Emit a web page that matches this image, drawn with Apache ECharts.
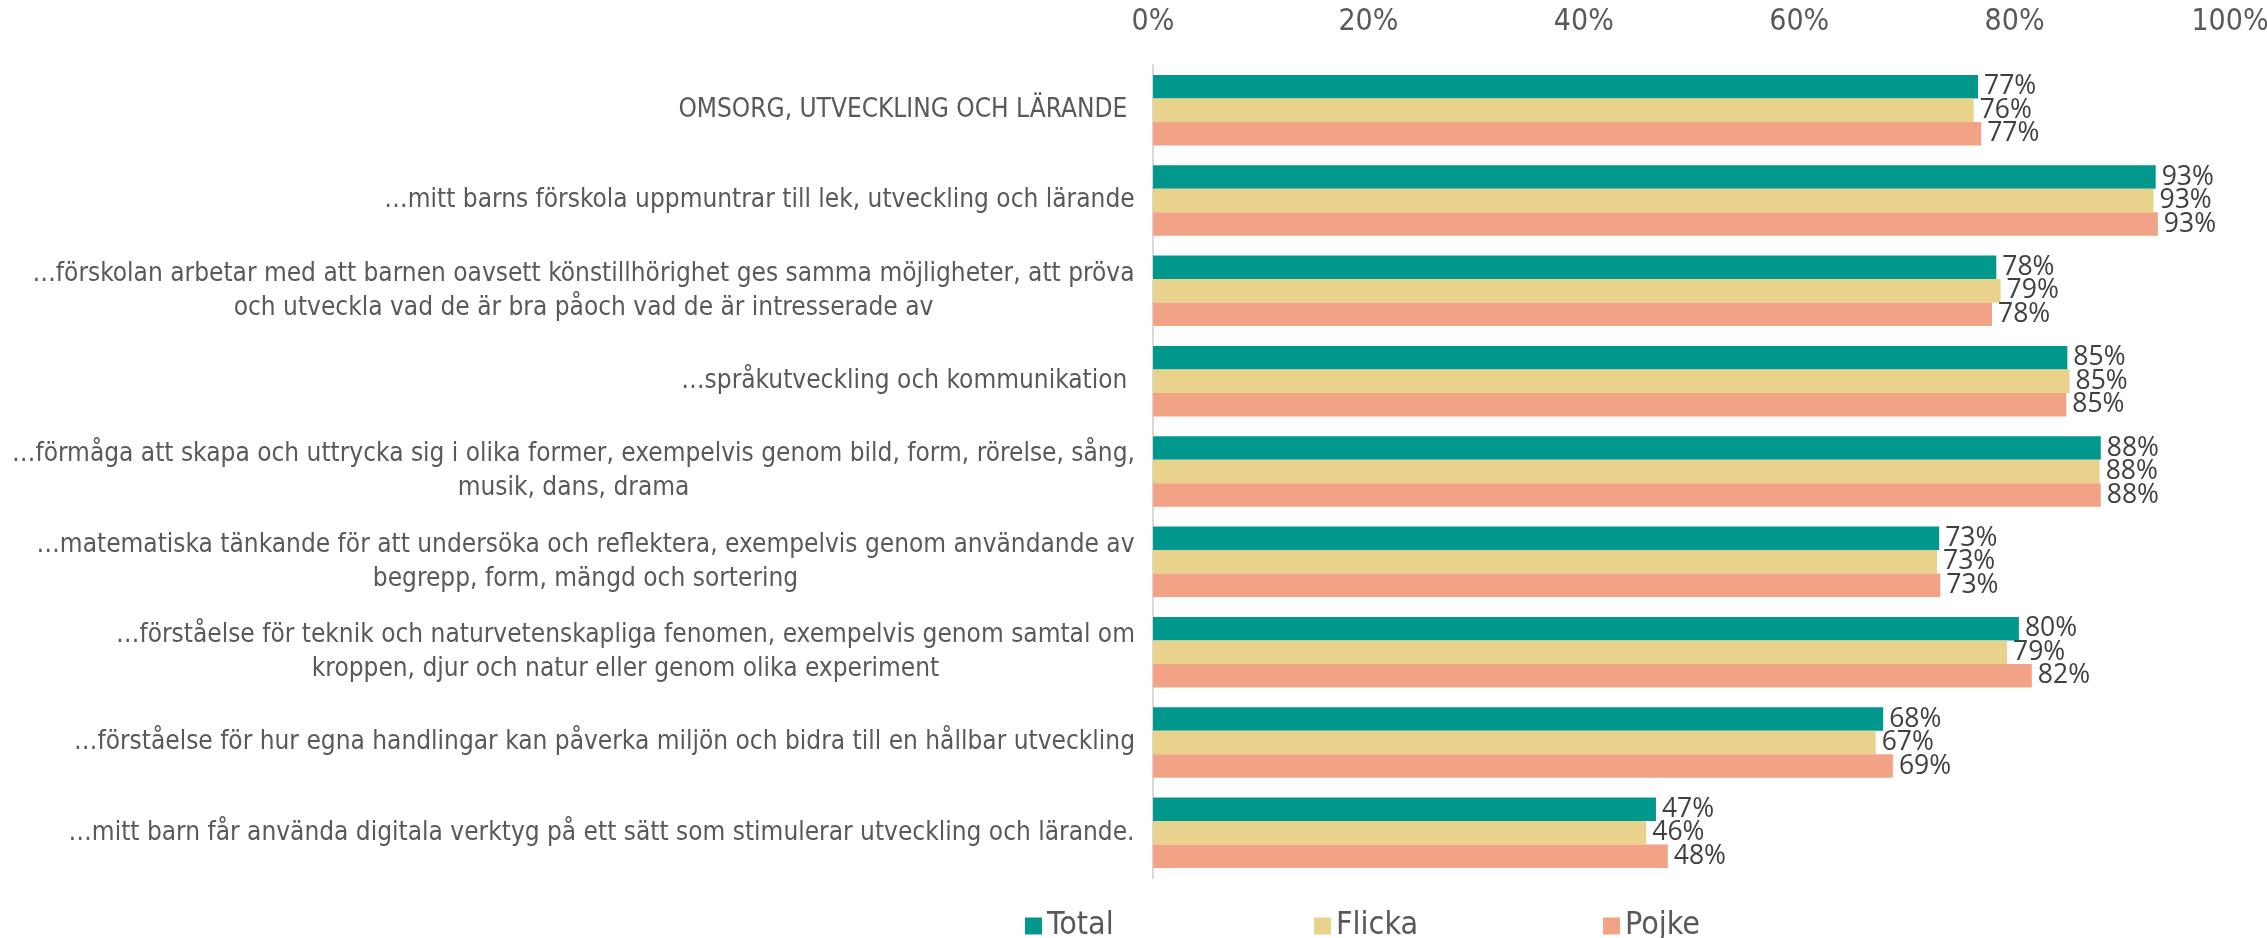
<!DOCTYPE html>
<html>
<head>
<meta charset="utf-8">
<script src="https://cdn.jsdelivr.net/npm/echarts@6/dist/echarts.min.js"></script>
<style>
  html, body { margin: 0; padding: 0; background: #fff; }
  #chart { width: 2267px; height: 938px; }
</style>
</head>
<body>
<div id="chart"></div>
<script>
// kategorier (uppifrån och ned)
var categories = [
    'OMSORG, UTVECKLING OCH LÄRANDE ',
    '…mitt barns förskola uppmuntrar till lek, utveckling och lärande',
    '…förskolan arbetar med att barnen oavsett könstillhörighet ges samma möjligheter, att pröva\noch utveckla vad de är bra påoch vad de är intresserade av',
    '…språkutveckling och kommunikation ',
    '…förmåga att skapa och uttrycka sig i olika former, exempelvis genom bild, form, rörelse, sång,\nmusik, dans, drama',
    '…matematiska tänkande för att undersöka och reflektera, exempelvis genom användande av\nbegrepp, form, mängd och sortering',
    '…förståelse för teknik och naturvetenskapliga fenomen, exempelvis genom samtal om\nkroppen, djur och natur eller genom olika experiment',
    '…förståelse för hur egna handlingar kan påverka miljön och bidra till en hållbar utveckling',
    '…mitt barn får använda digitala verktyg på ett sätt som stimulerar utveckling och lärande.'
];
var seriesNames = ['Total', 'Flicka', 'Pojke'];
var totalValues  = [76.6, 93.1, 78.3, 84.9, 88.0, 73.0, 80.4, 67.8, 46.7];
var flickaValues = [76.2, 92.9, 78.7, 85.1, 87.9, 72.8, 79.3, 67.1, 45.8];
var pojkeValues  = [76.9, 93.3, 77.9, 84.8, 88.0, 73.1, 81.6, 68.7, 47.8];
var tickLabels = ['0%', '20%', '40%', '60%', '80%', '100%'];

var colors = ['#00988c', '#e9d28b', '#f3a385'];
var labelFont = '"Liberation Sans Narrow", "DejaVu Sans Condensed", "Open Sans", sans-serif';
var labelSize = 26;

/**
 * mät textbredd så att raderna kan centreras inom etiketten
 */
function measure(text, size, family) {
    var ctx = measure.ctx || (measure.ctx = document.createElement('canvas').getContext('2d'));
    ctx.font = size + 'px ' + family;
    return ctx.measureText(text).width;
}

var rich = {};
categories.forEach(function (cat, i) {
    var w = 0;
    cat.split('\n').forEach(function (line) {
        w = Math.max(w, measure(line, labelSize, labelFont));
    });
    rich['c' + i] = {
        width: Math.ceil(w),
        align: 'center',
        fontSize: labelSize,
        fontFamily: labelFont,
        color: '#595959',
        lineHeight: 34
    };
});

function makeSeries(name, data, idx) {
    return {
        name: name,
        type: 'bar',
        data: data,
        barGap: '0%',
        barCategoryGap: '22%',
        itemStyle: { color: colors[idx] },
        label: {
            show: true,
            position: 'right',
            distance: 6,
            formatter: function (p) { return Math.round(p.value) + '%'; },
            fontSize: 26.5,
            fontFamily: '"Open Sans", sans-serif',
            color: '#404040'
        }
    };
}

function makeLegend(name, idx, left) {
    return {
        data: [name],
        left: left,
        top: 905,
        icon: 'rect',
        itemWidth: 17,
        itemHeight: 17,
        textStyle: { fontSize: 32, fontFamily: labelFont, color: '#595959' }
    };
}

var chart = echarts.init(document.getElementById('chart'));
chart.setOption({
    animation: false,
    grid: { left: 1153, right: 37, top: 65, height: 813, outerBoundsMode: 'none', containLabel: false },
    legend: [
        makeLegend(seriesNames[0], 0, 1020),
        makeLegend(seriesNames[1], 1, 1309),
        makeLegend(seriesNames[2], 2, 1598)
    ],
    xAxis: {
        type: 'value',
        position: 'top',
        min: 0,
        max: 100,
        interval: 20,
        axisLine: { show: false },
        axisTick: { show: false },
        splitLine: { show: false },
        axisLabel: {
            margin: 28,
            fontSize: 30,
            fontFamily: labelFont,
            color: '#595959',
            formatter: function (v) { return tickLabels[v / 20]; }
        }
    },
    yAxis: {
        type: 'category',
        inverse: true,
        data: categories,
        axisLine: { show: true, lineStyle: { color: '#d9d9d9', width: 2 } },
        axisTick: { show: false },
        axisLabel: {
            margin: 18,
            formatter: function (value, index) {
                return value.split('\n').map(function (line) {
                    return '{c' + index + '|' + line + '}';
                }).join('\n');
            },
            rich: rich
        }
    },
    series: [
        makeSeries(seriesNames[0], totalValues, 0),
        makeSeries(seriesNames[1], flickaValues, 1),
        makeSeries(seriesNames[2], pojkeValues, 2)
    ]
});
</script>
</body>
</html>
